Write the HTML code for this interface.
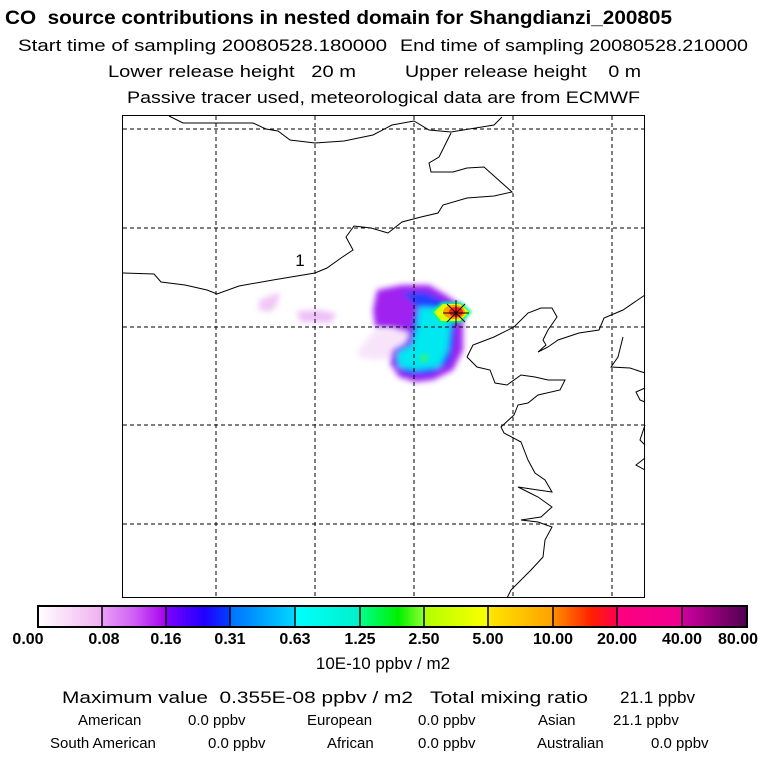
<!DOCTYPE html>
<html><head><meta charset="utf-8"><style>
body{margin:0;background:#fff}
svg{display:block;font-family:"Liberation Sans",sans-serif}
</style></head><body>
<svg width="768" height="768" viewBox="0 0 768 768" xmlns="http://www.w3.org/2000/svg">
<defs>
<filter id="b" x="-20%" y="-20%" width="140%" height="140%"><feGaussianBlur stdDeviation="3"/></filter>
<filter id="b2"><feGaussianBlur stdDeviation="1.5"/></filter>
<linearGradient id="g1"><stop offset="0" stop-color="#fff"/><stop offset="1" stop-color="#f0b0f0"/></linearGradient>
<linearGradient id="g2"><stop offset="0" stop-color="#e8a0f5"/><stop offset="0.5" stop-color="#d060f5"/><stop offset="1" stop-color="#a800f0"/></linearGradient>
<linearGradient id="g3"><stop offset="0" stop-color="#8000ff"/><stop offset="0.6" stop-color="#2000ff"/><stop offset="1" stop-color="#0040ff"/></linearGradient>
<linearGradient id="g4"><stop offset="0" stop-color="#0070ff"/><stop offset="1" stop-color="#00d8ff"/></linearGradient>
<linearGradient id="g5"><stop offset="0" stop-color="#00ffff"/><stop offset="1" stop-color="#00f0c8"/></linearGradient>
<linearGradient id="g6"><stop offset="0" stop-color="#00ff90"/><stop offset="0.6" stop-color="#00f000"/><stop offset="1" stop-color="#90ff30"/></linearGradient>
<linearGradient id="g7"><stop offset="0" stop-color="#b0ff00"/><stop offset="1" stop-color="#ffff00"/></linearGradient>
<linearGradient id="g8"><stop offset="0" stop-color="#ffe800"/><stop offset="1" stop-color="#ffa000"/></linearGradient>
<linearGradient id="g9"><stop offset="0" stop-color="#ff9000"/><stop offset="0.6" stop-color="#ff2000"/><stop offset="1" stop-color="#ff0050"/></linearGradient>
<linearGradient id="g10"><stop offset="0" stop-color="#ff0080"/><stop offset="1" stop-color="#f00090"/></linearGradient>
<linearGradient id="g11"><stop offset="0" stop-color="#d000a0"/><stop offset="1" stop-color="#500050"/></linearGradient>
</defs>

<text x="5" y="24" font-size="19" font-weight="bold" textLength="667" lengthAdjust="spacingAndGlyphs">CO &#160;source contributions in nested domain for Shangdianzi_200805</text>
<g font-size="17">
<text x="18" y="51" textLength="369" lengthAdjust="spacingAndGlyphs">Start time of sampling 20080528.180000</text>
<text x="400" y="51" textLength="348" lengthAdjust="spacingAndGlyphs">End time of sampling 20080528.210000</text>
<text x="108" y="77" textLength="248" lengthAdjust="spacingAndGlyphs">Lower release height &#160;&#160;20 m</text>
<text x="405" y="77" textLength="236" lengthAdjust="spacingAndGlyphs">Upper release height &#160;&#160;&#160;0 m</text>
<text x="127" y="103" textLength="513" lengthAdjust="spacingAndGlyphs">Passive tracer used, meteorological data are from ECMWF</text>
</g>

<g filter="url(#b)">
<polygon fill="#f0c8f5" points="259,300 280,292 277,305 270,312 259,310"/>
<polygon fill="#eec0f8" points="297,311 320,310 337,314 330,323 300,322"/>
<polygon fill="#f8e4fa" points="358,350 375,330 409,330 405,355 380,360 360,358"/>
<polygon fill="#a020f0" points="377,290 402,285 429,285 446,295 463,307 463,330 463,350 453,370 433,380 416,382 399,377 390,363 392,350 405,343 409,333 392,328 375,327 373,310"/>
<polygon fill="#2040ff" points="402,292 426,292 446,302 456,317 455,343 450,363 431,375 405,375 394,363 397,348 410,342 412,323 416,307"/>
<polygon fill="#00e8f0" points="419,307 436,308 451,323 448,350 439,367 416,370 399,367 397,353 412,345 417,327"/>
</g>
<circle cx="424" cy="358" r="5" fill="#20f0a0" filter="url(#b2)"/>
<polygon fill="#00ff90" points="431,312 442,302 461,302 472,312 461,323 440,323" filter="url(#b2)"/>
<polygon fill="#e0ff00" points="434,312 443,304 460,304 469,312 460,321 441,321"/>
<ellipse cx="454" cy="312" rx="11" ry="7" fill="#ffa000"/>
<ellipse cx="456" cy="312" rx="7" ry="5" fill="#ff2020"/>

<g stroke="#000" stroke-width="1" stroke-dasharray="4,3" fill="none">
<line x1="216" y1="116" x2="216" y2="597"/><line x1="315" y1="116" x2="315" y2="597"/>
<line x1="414" y1="116" x2="414" y2="597"/><line x1="513" y1="116" x2="513" y2="597"/>
<line x1="612" y1="116" x2="612" y2="597"/>
<line x1="123" y1="129" x2="645" y2="129"/><line x1="123" y1="228" x2="645" y2="228"/>
<line x1="123" y1="327" x2="645" y2="327"/><line x1="123" y1="425" x2="645" y2="425"/>
<line x1="123" y1="524" x2="645" y2="524"/>
</g>
<g stroke="#000" stroke-width="1" fill="none">
<polyline points="169,116 183,123 202,123 253,123 266,129 278,131 290,140 315,143 344,141 373,135 392,125 414,121 429,130 451,132 494,125 502,117"/>
<polyline points="451,133 439,157 429,163 431,172 453,172 467,168 484,167 512,192 494,196 467,198 443,205 438,213 421,217 402,222 388,233 371,228 354,226 346,237 353,250 341,258 327,268 315,273 273,280 239,286 217,294 207,290 185,285 161,282 154,274 123,273"/>
<polyline points="467,357 473,345 494,337 514,327 528,313 541,308 552,308 557,317 548,330 543,340 546,345 538,352 548,347 558,340 579,333 599,330 604,318 623,310 645,295"/>
<polyline points="467,357 477,367 490,370 495,383 507,385 521,375 535,377 548,380 565,380 560,390 538,395 528,403 518,405 514,415 501,427 504,433 521,442 528,460 535,473 545,480 552,492 538,490 518,487 538,497 552,507 541,517 521,520 538,522 552,527 545,540 543,557 531,570 521,580 511,590 507,598"/>
<polyline points="623,337 618,357 611,367 630,368 645,373"/>
<polyline points="645,388 636,392 640,400 645,402"/>
<polyline points="645,425 640,440 645,445"/>
<polyline points="645,458 636,465 645,470"/>
</g>
<text x="300" y="266" font-size="17" text-anchor="middle">1</text>
<line x1="443" y1="313" x2="469" y2="313" stroke="#000"/>
<line x1="456" y1="300" x2="456" y2="326" stroke="#000"/>
<line x1="447" y1="304" x2="465" y2="322" stroke="#000"/>
<line x1="465" y1="304" x2="447" y2="322" stroke="#000"/>
<rect x="122.5" y="115.5" width="522" height="482" fill="none" stroke="#000"/>

<g>
<rect x="38" y="606" width="64" height="21" fill="url(#g1)"/>
<rect x="102" y="606" width="64" height="21" fill="url(#g2)"/>
<rect x="166" y="606" width="64" height="21" fill="url(#g3)"/>
<rect x="230" y="606" width="65" height="21" fill="url(#g4)"/>
<rect x="295" y="606" width="65" height="21" fill="url(#g5)"/>
<rect x="360" y="606" width="64" height="21" fill="url(#g6)"/>
<rect x="424" y="606" width="64" height="21" fill="url(#g7)"/>
<rect x="488" y="606" width="65" height="21" fill="url(#g8)"/>
<rect x="553" y="606" width="64" height="21" fill="url(#g9)"/>
<rect x="617" y="606" width="65" height="21" fill="url(#g10)"/>
<rect x="682" y="606" width="65" height="21" fill="url(#g11)"/>
<g stroke="#000" stroke-width="1.5">
<line x1="102" y1="606" x2="102" y2="627"/><line x1="166" y1="606" x2="166" y2="627"/>
<line x1="230" y1="606" x2="230" y2="627"/><line x1="295" y1="606" x2="295" y2="627"/>
<line x1="360" y1="606" x2="360" y2="627"/><line x1="424" y1="606" x2="424" y2="627"/>
<line x1="488" y1="606" x2="488" y2="627"/><line x1="553" y1="606" x2="553" y2="627"/>
<line x1="617" y1="606" x2="617" y2="627"/><line x1="682" y1="606" x2="682" y2="627"/>
</g>
<rect x="38" y="606" width="709" height="21" fill="none" stroke="#000" stroke-width="2"/>
</g>
<g font-size="16" font-weight="bold" text-anchor="middle">
<text x="28" y="644">0.00</text><text x="104" y="644">0.08</text><text x="166" y="644">0.16</text>
<text x="230" y="644">0.31</text><text x="295" y="644">0.63</text><text x="360" y="644">1.25</text>
<text x="424" y="644">2.50</text><text x="488" y="644">5.00</text><text x="553" y="644">10.00</text>
<text x="617" y="644">20.00</text><text x="682" y="644">40.00</text><text x="738" y="644">80.00</text>
</g>
<text x="383" y="669" font-size="17" text-anchor="middle">10E-10 ppbv / m2</text>
<text x="62" y="703" font-size="17" textLength="351" lengthAdjust="spacingAndGlyphs">Maximum value &#160;0.355E-08 ppbv / m2</text>
<text x="430" y="703" font-size="17" textLength="158" lengthAdjust="spacingAndGlyphs">Total mixing ratio</text>
<text x="620" y="703" font-size="17" textLength="75" lengthAdjust="spacingAndGlyphs">21.1 ppbv</text>
<g font-size="15">
<text x="78" y="725">American</text><text x="188" y="725">0.0 ppbv</text>
<text x="307" y="725">European</text><text x="418" y="725">0.0 ppbv</text>
<text x="538" y="725">Asian</text><text x="613" y="725">21.1 ppbv</text>
<text x="50" y="748">South American</text><text x="208" y="748">0.0 ppbv</text>
<text x="327" y="748">African</text><text x="418" y="748">0.0 ppbv</text>
<text x="537" y="748">Australian</text><text x="651" y="748">0.0 ppbv</text>
</g>
</svg>
</body></html>
